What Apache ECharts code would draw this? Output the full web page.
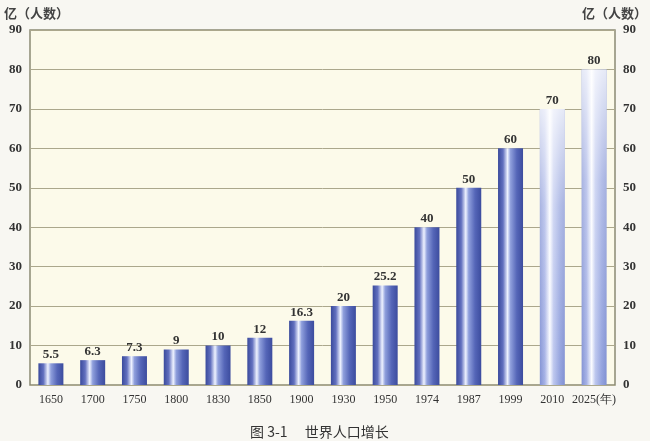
<!DOCTYPE html>
<html><head><meta charset="utf-8">
<script src="https://cdn.jsdelivr.net/npm/echarts@6/dist/echarts.min.js"></script>
<style>html,body{margin:0;padding:0;background:#f8f7f2;}#c{width:650px;height:441px;}</style>
</head><body><div id="c"></div>
<script>
var years = ['1650','1700','1750','1800','1830','1850','1900','1930','1950','1974','1987','1999','2010','2025(年)'];
var population = [5.5, 6.3, 7.3, 9, 10, 12, 16.3, 20, 25.2, 40, 50, 60, 70, 80];
var projected = [false,false,false,false,false,false,false,false,false,false,false,false,true,true];

var chart = echarts.init(document.getElementById('c'));
var solid = new echarts.graphic.LinearGradient(0,0,1,0,[
  {offset:0,color:'#3a4a9c'},{offset:0.2,color:'#6270bf'},{offset:0.38,color:'#eef2ff'},
  {offset:0.5,color:'#8f9fdc'},{offset:0.75,color:'#5566b8'},{offset:1,color:'#3c4c9e'}]);
var faded = new echarts.graphic.LinearGradient(0,0,1,0,[
  {offset:0,color:'#8292d4'},{offset:0.2,color:'#a6b2e6'},{offset:0.4,color:'#fbfcff'},
  {offset:0.55,color:'#bcc6ee'},{offset:0.8,color:'#94a3de'},{offset:1,color:'#8090d2'}]);
var veil = new echarts.graphic.LinearGradient(0,0,0,1,[
  {offset:0,color:'rgba(255,255,255,0.8)'},{offset:0.35,color:'rgba(255,255,255,0.3)'},{offset:1,color:'rgba(255,255,255,0)'}]);
var data = population.map(function(v,i){
  return {value:v, itemStyle:{color: projected[i]?faded:solid}};
});
var veilData = population.map(function(v,i){ return projected[i]?v:'-'; });
var axisLabelStyle = {color:'#333', fontFamily:'Liberation Serif', fontSize:13, fontWeight:'bold'};
chart.setOption({
  animation:false,
  backgroundColor:'#f8f7f2',
  grid:{left:30,right:35,top:30,bottom:56,show:true,backgroundColor:'#fcfaea',borderColor:'#8b8a74',borderWidth:1.5},
  title:{text:'图 3-1　 世界人口增长',left:245,top:420,textStyle:{fontFamily:'Noto Sans CJK SC',fontSize:14,fontWeight:'normal',color:'#333'}},
  xAxis:{type:'category',data:years,axisTick:{show:false},axisLine:{show:false},
    axisLabel:{color:'#333',fontFamily:'Liberation Serif',fontSize:12,margin:9,interval:0}},
  yAxis:[
    {type:'value',min:0,max:90,interval:10,name:'亿（人数）',nameLocation:'end',nameGap:10,
     nameTextStyle:{fontFamily:'Noto Sans CJK SC',fontSize:13,fontWeight:'bold',color:'#444',align:'left',padding:[0,0,0,-26]},
     axisLine:{show:false},axisTick:{show:false},splitLine:{lineStyle:{color:'#aba78c',width:1}},
     axisLabel:Object.assign({margin:8},axisLabelStyle)},
    {type:'value',min:0,max:90,interval:10,position:'right',name:'亿（人数）',nameLocation:'end',nameGap:10,
     nameTextStyle:{fontFamily:'Noto Sans CJK SC',fontSize:13,fontWeight:'bold',color:'#444',align:'right',padding:[0,-32,0,0]},
     axisLine:{show:false},axisTick:{show:false},splitLine:{show:false},
     axisLabel:Object.assign({margin:8},axisLabelStyle)}
  ],
  series:[
    {type:'bar',data:data,barWidth:25,yAxisIndex:0,z:2,
     label:{show:true,position:'top',distance:2,color:'#333',fontFamily:'Liberation Serif',fontSize:13,fontWeight:'bold'}},
    {type:'bar',data:veilData,barWidth:25,barGap:'-100%',yAxisIndex:0,z:3,silent:true,
     itemStyle:{color:veil},label:{show:false}}
  ]
});
</script></body></html>
